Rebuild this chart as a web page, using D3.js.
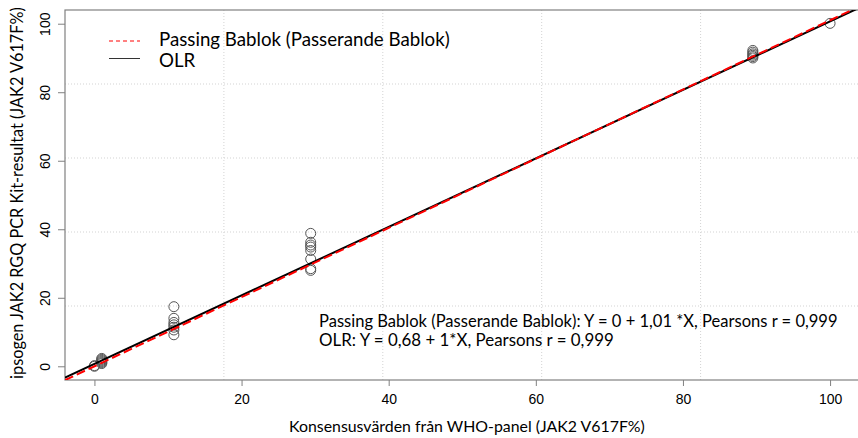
<!DOCTYPE html>
<html><head><meta charset="utf-8">
<script src="https://cdn.jsdelivr.net/npm/d3@7"></script>
<style>body{margin:0;background:#fff}</style>
</head><body>
<svg id="c" width="858" height="438"></svg>
<script>
// ---- data ----
const xTicks = [0, 20, 40, 60, 80, 100];
const yTicks = [0, 20, 40, 60, 80, 100];
const refX  = [0, 0, 1, 1, 1, 1, 1, 1, 10.8, 10.8, 10.8, 10.8, 10.8, 10.8, 10.8,
               29.4, 29.4, 29.4, 29.4, 29.4, 29.4, 29.4, 29.4,
               89.5, 89.5, 89.5, 89.5, 89.5, 89.5, 100];
const measY = [0.2, 0.0, 0.8, 1.1, 1.4, 1.7, 2.0, 2.3, 17.4, 14.0, 12.8, 12.1, 11.4, 10.6, 9.2,
               38.8, 36.2, 35.4, 34.8, 33.8, 31.3, 28.5, 28.0,
               92.2, 91.7, 91.2, 90.8, 90.4, 90.0, 100.1];
const fitNames = ["Passing Bablok (Passerande Bablok)", "OLR"];
const intercepts = [0, 0.68];
const slopes = [1.01, 1];
const annot = ["Passing Bablok (Passerande Bablok): Y = 0 + 1,01 *X, Pearsons r = 0,999",
               "OLR: Y = 0,68 + 1*X, Pearsons r = 0,999"];
const xTitle = "Konsensusvärden från WHO-panel (JAK2 V617F%)";
const yTitle = "ipsogen JAK2 RGQ PCR Kit-resultat (JAK2 V617F%)";
const domain = [-4, 104];

// ---- layout ----
const L = 65, R = 859.5, T = 10, B = 380;
const svg = d3.select("#c");
const x = d3.scaleLinear().domain(domain).range([L, R]);
const y = d3.scaleLinear().domain(domain).range([B, T]);
const textFont = "Lato, 'Liberation Sans', sans-serif";
const tickFont = "'Liberation Sans', Arial, sans-serif";

function fit(sel, w) {
  const base = 20;
  sel.attr("font-size", base);
  const m = sel.node().getComputedTextLength();
  sel.attr("font-size", base * w / m);
  return sel;
}

svg.append("defs").append("clipPath").attr("id", "clip")
  .append("rect").attr("x", L).attr("y", T).attr("width", R - L).attr("height", B - T);

// grid (5 equal divisions)
const gx = d3.range(1, 5).map(i => L + i * (R - L) / 5);
const gy = d3.range(1, 5).map(i => T + i * (B - T) / 5);
const grid = svg.append("g").attr("stroke", "#d3d3d3").attr("stroke-dasharray", "1,2").attr("stroke-width", 1);
grid.selectAll(".gv").data(gx).join("line").attr("x1", d => d).attr("x2", d => d).attr("y1", T).attr("y2", B);
grid.selectAll(".gh").data(gy).join("line").attr("y1", d => d).attr("y2", d => d).attr("x1", L).attr("x2", R);

// axes
const ax = svg.append("g").attr("transform", `translate(0,${B})`)
  .call(d3.axisBottom(x).tickValues(xTicks).tickSize(6).tickFormat(d3.format("d")));
ax.select(".domain").remove();
ax.selectAll(".tick line").attr("stroke", "#808080");
ax.selectAll(".tick text").attr("y", 24).attr("dy", 0).attr("font-size", 14)
  .attr("font-family", tickFont).attr("fill", "#000");

const ay = svg.append("g").attr("transform", `translate(${L},0)`)
  .call(d3.axisLeft(y).tickValues(yTicks).tickSize(7).tickFormat(d3.format("d")));
ay.select(".domain").remove();
ay.selectAll(".tick line").attr("stroke", "#808080");
ay.selectAll(".tick text").attr("transform", "rotate(-90)").attr("x", 0).attr("y", -15)
  .attr("dy", 0).attr("text-anchor", "middle").attr("font-size", 14)
  .attr("font-family", tickFont).attr("fill", "#000");

// box
svg.append("rect").attr("x", L).attr("y", T).attr("width", R - L).attr("height", B - T)
  .attr("fill", "none").attr("stroke", "#808080").attr("stroke-width", 1.2);

// points
svg.append("g").selectAll("circle").data(refX).join("circle")
  .attr("cx", d => x(d)).attr("cy", (d, i) => y(measY[i])).attr("r", 5)
  .attr("fill", "none").attr("stroke", "#555").attr("stroke-width", 1);

// fit lines
const lines = svg.append("g").attr("clip-path", "url(#clip)");
const olr = 1, pb = 0;
lines.append("line")
  .attr("x1", x(domain[0])).attr("y1", y(intercepts[olr] + slopes[olr] * domain[0]))
  .attr("x2", x(domain[1])).attr("y2", y(intercepts[olr] + slopes[olr] * domain[1]))
  .attr("stroke", "#000").attr("stroke-width", 2);
lines.append("line")
  .attr("x1", x(domain[0])).attr("y1", y(intercepts[pb] + slopes[pb] * domain[0]))
  .attr("x2", x(domain[1])).attr("y2", y(intercepts[pb] + slopes[pb] * domain[1]))
  .attr("stroke", "#ff0000").attr("stroke-width", 2).attr("stroke-dasharray", "9,4");

// legend
const lg = svg.append("g");
lg.append("line").attr("x1", 109).attr("x2", 140).attr("y1", 41).attr("y2", 41)
  .attr("stroke", "#ff0000").attr("stroke-width", 1).attr("stroke-dasharray", "4,3");
lg.append("line").attr("x1", 109).attr("x2", 140).attr("y1", 58.5).attr("y2", 58.5)
  .attr("stroke", "#333").attr("stroke-width", 1);
fit(lg.append("text").attr("x", 159).attr("y", 46).attr("font-family", textFont).text(fitNames[0]), 291);
lg.append("text").attr("x", 159).attr("y", 66.5).attr("font-family", textFont)
  .attr("font-size", lg.select("text").attr("font-size")).text(fitNames[1]);

// annotation
fit(svg.append("text").attr("x", 319).attr("y", 326.5).attr("font-family", textFont).text(annot[0]), 519);
fit(svg.append("text").attr("x", 319).attr("y", 345.5).attr("font-family", textFont).text(annot[1]), 295);

// axis titles
fit(svg.append("text").attr("x", 289).attr("y", 432).attr("font-family", textFont).text(xTitle), 356);
fit(svg.append("text").attr("transform", "translate(23,193) rotate(-90)").attr("text-anchor", "middle")
  .attr("font-family", textFont).text(yTitle), 372);
</script>
</body></html>
